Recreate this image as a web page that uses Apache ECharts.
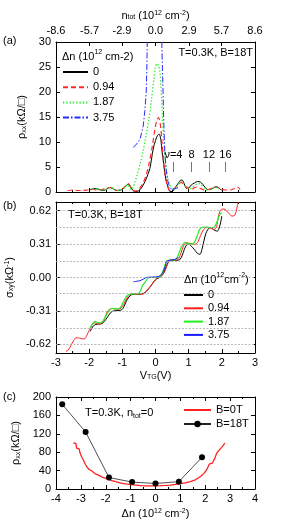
<!DOCTYPE html>
<html><head><meta charset="utf-8">
<script src="https://cdn.jsdelivr.net/npm/echarts@6/dist/echarts.min.js"></script>
<style>html,body{margin:0;padding:0;background:#fff}#c{width:285px;height:523px}</style>
</head><body><div id="c"></div>
<script>
// ---------- DATA ----------
// Panel (a): rho_xx (kOhm/sq) vs V_TG (V), pairs [V, rho]
const dnNames = ['0','0.94','1.87','3.75'];
const rhoA_0 = [[-2.0,0.4],[-1.9,0.6],[-1.8,0.7],[-1.7,0.5],[-1.57,0.3],[-1.47,0.6],[-1.37,0.9],[-1.27,0.6],[-1.17,0.3],[-1.05,0.4],[-0.95,0.8],[-0.88,1.3],[-0.82,1.6],[-0.75,1.0],[-0.68,0.3],[-0.6,0.1],[-0.52,0.2],[-0.45,0.6],[-0.37,1.4],[-0.27,2.8],[-0.17,4.7],[-0.07,8.6],[0.0,10.3],[0.06,11.3],[0.11,11.6],[0.16,10.5],[0.2,8.0],[0.25,5.5],[0.29,3.4],[0.34,1.8],[0.39,0.7],[0.44,0.1],[0.5,0.1],[0.56,0.5],[0.63,1.2],[0.7,1.9],[0.77,2.4],[0.82,2.3],[0.88,1.4],[0.94,0.7],[1.0,0.8],[1.08,1.4],[1.17,1.8],[1.27,2.1],[1.35,2.0],[1.43,1.5],[1.5,0.9],[1.57,0.5],[1.65,0.5],[1.74,0.8],[1.82,1.05],[1.9,0.9],[1.96,0.5],[2.0,0.4]];
const rhoA_094 = [[-2.65,0.3],[-2.5,0.4],[-2.35,0.3],[-2.2,0.3],[-2.05,0.4],[-1.9,0.5],[-1.75,0.4],[-1.6,0.5],[-1.5,0.7],[-1.37,0.9],[-1.25,0.5],[-1.12,0.3],[-1.0,0.6],[-0.9,1.2],[-0.82,1.7],[-0.75,1.0],[-0.67,0.3],[-0.58,0.2],[-0.5,0.6],[-0.4,1.5],[-0.3,3.0],[-0.2,5.5],[-0.1,9.0],[-0.02,12.5],[0.04,14.3],[0.09,14.9],[0.14,13.8],[0.19,10.5],[0.23,7.0],[0.28,4.0],[0.33,2.0],[0.39,0.7],[0.45,0.3],[0.52,0.4],[0.6,0.9],[0.7,1.6],[0.78,1.9],[0.85,1.5],[0.94,1.0],[1.02,0.6],[1.1,0.6],[1.18,0.9],[1.25,1.0],[1.33,0.8],[1.42,0.5],[1.5,0.4],[1.6,0.5],[1.7,0.8],[1.8,1.0],[1.88,0.9],[1.97,0.6],[2.1,0.4],[2.25,0.4],[2.38,0.7],[2.47,1.0],[2.55,0.5]];
const rhoA_187 = [[-1.9,0.6],[-1.75,0.6],[-1.6,0.4],[-1.45,0.6],[-1.35,0.9],[-1.22,0.5],[-1.1,0.3],[-0.98,0.6],[-0.9,1.1],[-0.84,1.5],[-0.78,0.8],[-0.72,0.5],[-0.67,1.0],[-0.62,2.0],[-0.55,3.5],[-0.47,5.5],[-0.38,8.0],[-0.28,11.5],[-0.2,14.5],[-0.12,18.5],[-0.05,22.5],[0.0,25.0],[0.05,25.7],[0.09,25.3],[0.14,23.7],[0.19,17.8],[0.24,11.2],[0.28,7.5],[0.32,4.7],[0.38,2.5],[0.44,1.4],[0.5,0.6],[0.56,0.5],[0.64,1.0],[0.72,1.8],[0.79,2.1],[0.86,1.6],[0.94,0.8],[1.02,0.6],[1.12,1.0],[1.22,1.5],[1.3,1.7],[1.38,1.4],[1.47,0.8],[1.56,0.4],[1.66,0.5],[1.76,0.8],[1.85,0.9],[1.92,0.6]];
// blue curve leaves the top of the frame between its two branches ('-' = gap)
const rhoA_375 = [[-0.67,8.9],[-0.57,9.6],[-0.47,10.5],[-0.42,11.8],[-0.37,13.2],[-0.32,16.3],[-0.28,20],[-0.26,25],[-0.25,30],[-0.03,'-'],[0.19,30],[0.2,27],[0.22,22],[0.25,14],[0.28,8],[0.32,4.5],[0.37,2.2],[0.42,1.0],[0.48,0.5],[0.54,0.4],[0.6,0.7],[0.66,1.0],[0.7,0.9]];
// Landau level filling markers in (a)
const nuLabels = ['\u03bd=4','8','12','16'];
const nuPositions = [0.54,1.09,1.61,2.11];
// top axis tick labels (n_tot)
const ntotTicks = [-8.6,-5.7,-2.9,0.0,2.9,5.7,8.6];

// Panel (b): sigma_xy (1/kOhm) vs V_TG (V)
const sigB_0 = [[-1.97,-0.50],[-1.92,-0.47],[-1.87,-0.448],[-1.8,-0.435],[-1.72,-0.432],[-1.65,-0.43],[-1.58,-0.42],[-1.5,-0.39],[-1.42,-0.355],[-1.35,-0.325],[-1.27,-0.31],[-1.18,-0.307],[-1.1,-0.305],[-1.02,-0.3],[-0.95,-0.27],[-0.88,-0.22],[-0.8,-0.18],[-0.72,-0.16],[-0.62,-0.155],[-0.5,-0.155],[-0.4,-0.15],[-0.32,-0.14],[-0.22,-0.11],[-0.12,-0.07],[-0.04,-0.035],[0.04,-0.012],[0.12,0.0],[0.2,0.02],[0.26,0.05],[0.32,0.1],[0.38,0.14],[0.45,0.155],[0.55,0.157],[0.65,0.16],[0.73,0.165],[0.8,0.2],[0.87,0.26],[0.93,0.3],[1.0,0.31],[1.08,0.29],[1.17,0.26],[1.26,0.225],[1.34,0.215],[1.4,0.26],[1.46,0.34],[1.52,0.41],[1.58,0.445],[1.64,0.463],[1.72,0.45],[1.8,0.435],[1.87,0.43],[1.93,0.47],[1.97,0.52],[2.0,0.57]];
const sigB_094 = [[-2.7,-0.685],[-2.63,-0.673],[-2.55,-0.63],[-2.47,-0.585],[-2.4,-0.56],[-2.32,-0.56],[-2.25,-0.565],[-2.15,-0.57],[-2.08,-0.545],[-2.02,-0.5],[-1.97,-0.475],[-1.9,-0.43],[-1.83,-0.42],[-1.75,-0.43],[-1.67,-0.432],[-1.6,-0.42],[-1.52,-0.37],[-1.46,-0.32],[-1.4,-0.3],[-1.32,-0.287],[-1.22,-0.29],[-1.12,-0.293],[-1.04,-0.285],[-0.96,-0.25],[-0.88,-0.2],[-0.8,-0.165],[-0.7,-0.15],[-0.6,-0.152],[-0.5,-0.155],[-0.4,-0.155],[-0.33,-0.145],[-0.25,-0.115],[-0.15,-0.08],[-0.07,-0.046],[0.02,-0.01],[0.1,0.0],[0.18,0.015],[0.25,0.04],[0.3,0.07],[0.36,0.12],[0.42,0.16],[0.5,0.165],[0.6,0.16],[0.68,0.165],[0.76,0.22],[0.84,0.29],[0.92,0.322],[1.0,0.318],[1.1,0.312],[1.2,0.308],[1.28,0.33],[1.36,0.39],[1.44,0.44],[1.52,0.463],[1.6,0.46],[1.68,0.455],[1.76,0.445],[1.84,0.47],[1.9,0.57],[1.96,0.625],[2.03,0.635],[2.1,0.63],[2.2,0.6],[2.3,0.57],[2.37,0.572],[2.43,0.61],[2.47,0.67],[2.5,0.70]];
const sigB_187 = [[-1.97,-0.465],[-1.92,-0.44],[-1.87,-0.416],[-1.82,-0.41],[-1.75,-0.415],[-1.68,-0.42],[-1.6,-0.41],[-1.52,-0.37],[-1.45,-0.33],[-1.38,-0.3],[-1.3,-0.287],[-1.22,-0.29],[-1.12,-0.29],[-1.04,-0.27],[-0.96,-0.22],[-0.88,-0.175],[-0.8,-0.157],[-0.7,-0.152],[-0.6,-0.153],[-0.52,-0.15],[-0.45,-0.12],[-0.38,-0.07],[-0.32,-0.046],[-0.24,-0.01],[-0.17,0.0],[-0.05,0.0],[0.05,0.003],[0.13,0.01],[0.2,0.04],[0.27,0.1],[0.34,0.155],[0.42,0.16],[0.54,0.16],[0.62,0.17],[0.7,0.22],[0.79,0.29],[0.88,0.322],[0.98,0.315],[1.08,0.31],[1.16,0.32],[1.24,0.37],[1.32,0.44],[1.4,0.465],[1.5,0.468],[1.6,0.465],[1.7,0.463],[1.78,0.47],[1.86,0.52],[1.94,0.585],[2.0,0.6]];
const sigB_375 = [[-0.67,-0.04],[-0.57,-0.035],[-0.47,-0.03],[-0.37,-0.015],[-0.27,0.0],[-0.15,0.003],[0.0,0.005],[0.1,0.01],[0.18,0.03],[0.24,0.06],[0.29,0.1],[0.34,0.15],[0.42,0.16],[0.52,0.165],[0.6,0.17],[0.69,0.185]];
const sigmaLevels = [-0.62,-0.465,-0.31,-0.155,0,0.155,0.31,0.465,0.62];
const sigmaTicks = [-0.62,-0.31,0,0.31,0.62];

// Panel (c): rho_xx at n_tot=0 vs delta n
const dnC = [-3.75,-2.81,-1.87,-0.94,0,0.94,1.87];
const rhoC_18T = [184,124,25,15,12,16,69];
const rhoC_0T = [[-3.3,100],[-3.26,101],[-3.22,97],[-3.2,99],[-3.17,89],[-3.14,92],[-3.1,85],[-3.07,87],[-3.04,80],[-3.0,77],[-2.97,70],[-2.94,72],[-2.9,63],[-2.87,65],[-2.83,55],[-2.8,57],[-2.77,49],[-2.72,47],[-2.68,43],[-2.63,41],[-2.56,39],[-2.5,37],[-2.42,33],[-2.35,31],[-2.25,29],[-2.15,26],[-2.05,24],[-1.95,22],[-1.8,19],[-1.6,16],[-1.4,13],[-1.2,11],[-1.0,9.5],[-0.8,8.5],[-0.6,7.5],[-0.4,7],[-0.2,7],[0,7],[0.2,7.2],[0.4,7.8],[0.6,8.5],[0.8,10],[1.0,11.5],[1.2,13.5],[1.4,16],[1.6,20],[1.75,25],[1.85,29],[1.95,34],[2.02,38],[2.08,44],[2.12,48],[2.16,54],[2.22,53],[2.28,56],[2.33,58],[2.38,66],[2.42,70],[2.46,78],[2.5,77],[2.55,84],[2.6,83],[2.65,90],[2.7,89],[2.74,96],[2.78,100]];

// ---------- CHART ----------
const FONT = '"Liberation Sans", Arial, sans-serif';
const rich = {
  sub:{fontSize:7,lineHeight:8,verticalAlign:'bottom',fontFamily:FONT,color:'#000'},
  sup:{fontSize:7,lineHeight:8,verticalAlign:'top',fontFamily:FONT,color:'#000'},
  b:{fontSize:11,lineHeight:15,fontFamily:FONT,color:'#000'}
};
const ax = {color:'#000',width:1};
function xAx(grid,pos,min,max,opts){
  return Object.assign({type:'value',gridIndex:grid,position:pos,min:min,max:max,interval:1,
    axisLine:{show:true,onZero:false,lineStyle:ax},
    axisTick:{show:true,inside:true,length:4,lineStyle:ax},
    minorTick:{show:true,splitNumber:2,length:2,lineStyle:ax},
    axisLabel:{show:false},splitLine:{show:false}},opts||{});
}
function yAx(grid,pos,min,max,interval,opts){
  return Object.assign({type:'value',gridIndex:grid,position:pos,min:min,max:max,interval:interval,
    axisLine:{show:true,onZero:false,lineStyle:ax},
    axisTick:{show:true,inside:true,length:4,lineStyle:ax},
    axisLabel:{show:false},splitLine:{show:false}},opts||{});
}
const lab = {show:true,color:'#000',fontSize:11,fontFamily:FONT};
const hideSym = {opacity:0};

const option = {
  animation:false,
  backgroundColor:'#fff',
  textStyle:{fontFamily:FONT},
  grid:[
    {left:56,top:42,width:199,height:150,outerBoundsMode:'none'},
    {left:56,top:202,width:199,height:151,outerBoundsMode:'none'},
    {left:56,top:397,width:199,height:92,outerBoundsMode:'none'}
  ],
  xAxis:[
    xAx(0,'bottom',-3,3),
    xAx(0,'top',-8.6,8.6,{interval:null,
      axisLabel:Object.assign({},lab,{margin:6,customValues:ntotTicks,formatter:v=>(Math.abs(v)<1e-9?0:v).toFixed(1)}),
      axisTick:{show:true,inside:true,length:4,lineStyle:ax,customValues:ntotTicks},minorTick:{show:false},
      name:'n{sub|tot} (10{sup|12} cm{sup|-2})',nameLocation:'middle',nameGap:21,
      nameTextStyle:{fontSize:11,color:'#000',rich:rich}}),
    xAx(1,'bottom',-3,3,{axisLabel:Object.assign({},lab,{margin:4}),
      name:'V{sub|TG}(V)',nameLocation:'middle',nameGap:17,nameTextStyle:{fontSize:11,color:'#000',rich:rich}}),
    xAx(1,'top',-3,3),
    xAx(2,'bottom',-4,4,{axisLabel:Object.assign({},lab,{margin:4}),
      name:'\u0394n (10{sup|12} cm{sup|-2})',nameLocation:'middle',nameGap:19,nameTextStyle:{fontSize:11,color:'#000',rich:rich}}),
    xAx(2,'top',-4,4)
  ],
  yAxis:[
    yAx(0,'left',0,30,5,{axisLabel:Object.assign({},lab,{margin:5}),
      name:'\u03c1{sub|xx}(k\u03a9/\u25a1)',nameLocation:'middle',nameRotate:90,nameGap:26,
      nameTextStyle:{fontSize:11,color:'#000',rich:rich}}),
    yAx(0,'right',0,30,5),
    yAx(1,'left',-0.7,0.7,null,{
      axisLabel:Object.assign({},lab,{margin:5,customValues:sigmaTicks,formatter:v=>(Math.abs(v)<1e-9?0:v).toFixed(2)}),
      axisTick:{show:true,inside:true,length:4,lineStyle:ax,customValues:sigmaTicks},
      name:'\u03c3{sub|xy}(k\u03a9{sup|-1})',nameLocation:'middle',nameRotate:90,nameGap:32,
      nameTextStyle:{fontSize:11,color:'#000',rich:rich}}),
    yAx(1,'right',-0.7,0.7,null,{axisTick:{show:true,inside:true,length:4,lineStyle:ax,customValues:sigmaTicks}}),
    yAx(2,'left',0,200,40,{axisLabel:Object.assign({},lab,{margin:5}),
      name:'\u03c1{sub|xx}(k\u03a9/\u25a1)',nameLocation:'middle',nameRotate:90,nameGap:26,
      nameTextStyle:{fontSize:11,color:'#000',rich:rich}}),
    yAx(2,'right',0,200,40)
  ],
  title:[
    {text:'(a)',left:3,top:35,padding:0,textStyle:{fontSize:11,fontWeight:'normal',color:'#000',fontFamily:FONT}},
    {text:'(b)',left:3,top:200,padding:0,textStyle:{fontSize:11,fontWeight:'normal',color:'#000',fontFamily:FONT}},
    {text:'(c)',left:3,top:391,padding:0,textStyle:{fontSize:11,fontWeight:'normal',color:'#000',fontFamily:FONT}},
    {text:'T=0.3K, B=18T',right:32,top:47,padding:0,textStyle:{fontSize:11,fontWeight:'normal',color:'#000',fontFamily:FONT}},
    {text:'{b|\u0394n (10}{sup|12}{b| cm-2)}',left:62,top:49,padding:0,textStyle:{fontSize:11,fontWeight:'normal',color:'#000',rich:rich}},
    {text:'T=0.3K, B=18T',left:68,top:209,padding:0,textStyle:{fontSize:11,fontWeight:'normal',color:'#000',fontFamily:FONT}},
    {text:'{b|\u0394n (10}{sup|12}{b|cm}{sup|-2}{b|)}',left:184,top:272,padding:0,textStyle:{fontSize:11,fontWeight:'normal',color:'#000',rich:rich}},
    {text:'{b|T=0.3K, n}{sub|tot}{b|=0}',left:85,top:405,padding:0,textStyle:{fontSize:11,fontWeight:'normal',color:'#000',rich:rich}}
  ],
  graphic:[
    {type:'rect',z:3,shape:{x:181,y:270,width:73,height:77},style:{fill:'#fff'}}
  ],
  legend:[
    {data:dnNames.map(n=>'a:'+n),left:62,top:66,orient:'vertical',padding:0,itemGap:3.2,itemWidth:25,itemHeight:12,
     itemStyle:hideSym,selectedMode:false,formatter:n=>n.split(':')[1],textStyle:{fontSize:11,color:'#000',lineHeight:12,fontFamily:FONT}},
    {data:dnNames.map(n=>'b:'+n),left:183,top:289,orient:'vertical',padding:0,itemGap:1.3,itemWidth:19,itemHeight:12,
     itemStyle:hideSym,selectedMode:false,formatter:n=>n.split(':')[1],textStyle:{fontSize:11,color:'#000',lineHeight:12,fontFamily:FONT}},
    {data:[{name:'c:B=0T',itemStyle:hideSym},{name:'c:B=18T'}],left:183,top:404,orient:'vertical',padding:0,itemGap:2,itemWidth:27,itemHeight:8,
     selectedMode:false,formatter:n=>n.split(':')[1],textStyle:{fontSize:11,color:'#000',lineHeight:12,fontFamily:FONT}}
  ],
  series:[
    // (a)
    {name:'a:0',type:'line',clip:true,xAxisIndex:0,yAxisIndex:0,data:rhoA_0,symbol:'none',smooth:0.3,lineStyle:{color:'#000',width:1},itemStyle:{color:'#000'}},
    {name:'a:0.94',type:'line',clip:true,xAxisIndex:0,yAxisIndex:0,data:rhoA_094,symbol:'none',smooth:0.3,lineStyle:{color:'#ff2a2a',width:1.2,type:[5,3]},itemStyle:{color:'#ff2a2a'}},
    {name:'a:1.87',type:'line',clip:true,xAxisIndex:0,yAxisIndex:0,data:rhoA_187,symbol:'none',smooth:0.3,lineStyle:{color:'#22ee22',width:1.3,type:[1.3,2]},itemStyle:{color:'#22ee22'}},
    {name:'a:3.75',type:'line',clip:true,xAxisIndex:0,yAxisIndex:0,data:rhoA_375,symbol:'none',smooth:false,connectNulls:false,lineStyle:{color:'#2a2aff',width:1,type:[6,2,1.5,2]},itemStyle:{color:'#2a2aff'}},
    {type:'line',xAxisIndex:0,yAxisIndex:0,data:[],symbol:'none',silent:true,
     markLine:{silent:true,symbol:'none',animation:false,
       lineStyle:{color:'#777',width:1,type:'solid'},
       label:{show:true,position:'end',formatter:'{b}',color:'#000',fontSize:11,fontFamily:FONT,distance:2},
       data:nuPositions.map((p,i)=>[{coord:[p,4],name:nuLabels[i]},{coord:[p,6]}])}},
    // (b) grid lines
    {type:'line',xAxisIndex:2,yAxisIndex:2,data:[],symbol:'none',silent:true,z:1,
     markLine:{silent:true,symbol:'none',animation:false,label:{show:false},
       lineStyle:{color:'#aaa',width:0.8,type:[2,1.5]},
       data:sigmaLevels.map(v=>({yAxis:v}))}},
    {name:'b:0',type:'line',clip:true,xAxisIndex:2,yAxisIndex:2,data:sigB_0,symbol:'none',smooth:0.3,lineStyle:{color:'#000',width:1},itemStyle:{color:'#000'}},
    {name:'b:0.94',type:'line',clip:true,xAxisIndex:2,yAxisIndex:2,data:sigB_094,symbol:'none',smooth:0.3,lineStyle:{color:'#ff2020',width:1},itemStyle:{color:'#ff2020'}},
    {name:'b:1.87',type:'line',clip:true,xAxisIndex:2,yAxisIndex:2,data:sigB_187,symbol:'none',smooth:0.3,lineStyle:{color:'#22ee22',width:1.2},itemStyle:{color:'#22ee22'}},
    {name:'b:3.75',type:'line',clip:true,xAxisIndex:2,yAxisIndex:2,data:sigB_375,symbol:'none',smooth:0.3,lineStyle:{color:'#1a1aff',width:1},itemStyle:{color:'#1a1aff'}},
    // (c)
    {name:'c:B=0T',type:'line',clip:true,xAxisIndex:4,yAxisIndex:4,data:rhoC_0T,symbol:'none',lineStyle:{color:'#ff2020',width:1.3},itemStyle:{color:'#ff2020'}},
    {name:'c:B=18T',type:'line',clip:true,xAxisIndex:4,yAxisIndex:4,data:dnC.map((d,i)=>[d,rhoC_18T[i]]),symbol:'circle',symbolSize:6,
     lineStyle:{color:'#222',width:0.8},itemStyle:{color:'#000'}}
  ]
};
const chart = echarts.init(document.getElementById('c'),null,{renderer:'canvas'});
chart.setOption(option);
</script></body></html>
